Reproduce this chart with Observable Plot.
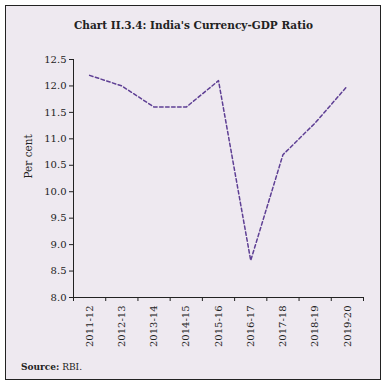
<!DOCTYPE html>
<html><head><meta charset="utf-8">
<script src="https://cdn.jsdelivr.net/npm/d3@7"></script>
<script src="https://cdn.jsdelivr.net/npm/@observablehq/plot@0.6"></script>
<style>
html,body{margin:0;padding:0;background:#fff;}
#frame{position:absolute;left:5px;top:5px;width:374px;height:373px;border:1.5px solid #222;background:#EEE9F0;}
#title{position:absolute;left:0;top:19px;width:387px;text-align:center;font:bold 10.5px "DejaVu Serif";color:#222;}
#chart{position:absolute;left:0;top:40px;}
#source{position:absolute;left:21px;top:362px;font:9px "DejaVu Serif";color:#222;}
</style></head>
<body>
<div id="frame"></div>
<div id="title">Chart II.3.4: India's Currency-GDP Ratio</div>
<div id="chart"></div>
<div id="source"><b>Source:</b> RBI.</div>
<script>
const years = ["2011-12","2012-13","2013-14","2014-15","2015-16","2016-17","2017-18","2018-19","2019-20"];
const ratio = [12.2, 12.0, 11.6, 11.6, 12.1, 8.7, 10.7, 11.3, 12.0];
const yTicks = [8.0, 8.5, 9.0, 9.5, 10.0, 10.5, 11.0, 11.5, 12.0, 12.5];

const data = years.map((y, i) => ({i, year: y, value: ratio[i]}));
const boundaries = d3.range(-0.5, years.length, 1);

const chart = Plot.plot({
  width: 387, height: 310,
  marginLeft: 73, marginRight: 24, marginTop: 19, marginBottom: 53,
  style: {background: "transparent", fontFamily: "DejaVu Serif", fontSize: "10px", color: "#222"},
  x: {domain: [-0.5, years.length - 0.5]},
  y: {domain: [8, 12.5]},
  marks: [
    Plot.axisY({ticks: yTicks, tickFormat: d3.format(".1f"), tickSize: 4, tickPadding: 3, label: null, fontSize: 10}),
    Plot.axisX({ticks: boundaries, tickFormat: () => "", tickSize: 4, label: null}),
    Plot.axisX({ticks: d3.range(years.length), tickFormat: i => years[i], tickSize: 0, tickPadding: 8, tickRotate: -90, textAnchor: "end", label: null, fontSize: 10}),
    Plot.ruleX([-0.5], {stroke: "#222", strokeWidth: 1}),
    Plot.ruleY([8], {stroke: "#222", strokeWidth: 1}),
    Plot.line(data, {x: "i", y: "value", stroke: "#5E3F94", strokeWidth: 1.5, strokeDasharray: "3.5,2.5"}),
    Plot.text(["Per cent"], {frameAnchor: "left", dx: -45, rotate: -90, fontSize: 10.5})
  ]
});
document.getElementById("chart").appendChild(chart);
</script>
</body></html>
